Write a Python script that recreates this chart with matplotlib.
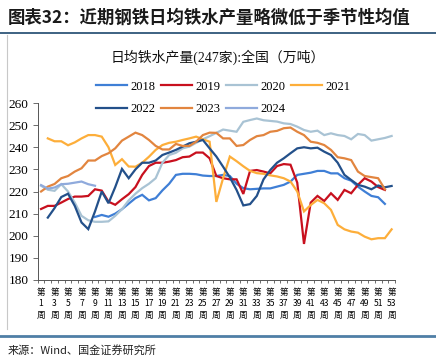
import numpy as np
import matplotlib
matplotlib.use("Agg")
import matplotlib.pyplot as plt
from matplotlib.lines import Line2D

nan = np.nan
weeks = list(range(1, 54))
week_labels = [f"第\n{w}\n周" for w in weeks]

y2018 = [nan]*8 + [208.5, 209.4, 208.6, 210, 212, 214.5, 217, 218.5, 216, 217,
        220.5, 223.5, 227.5, 228, 228, 227.8, 227.2, 227, 227, 227.5,
        227, 223.5, 221.5, 221, 221.2, 221.4, 221.4, 222.2, 223, 224.5,
        227.5, 228, 228.5, 229.3, 229.3, 228.2, 228.2, 226, 224.9, 222.2,
        220, 218, 217.4, 214.4, nan]
y2019 = [212.1, 213.5, 213.5, 215, 216.6, 217.7, 217.7, 218, 221, 220.4,
         215.4, 214, 216.5, 218.8, 222, 227.5, 231.5, 233, 233, 233.5,
         234.2, 235.5, 235.8, 237.6, 237.6, 235, 227, 226, 225.5, 225.5,
         218.9, 229.3, 229.7, 229, 228.2, 231.5, 232.4, 232.1, 224, 196.3,
         215, 218, 215.7, 219.2, 216.2, 220.7, 219.2, 223, 226, 224.5,
         222, 220.7, nan]
y2020 = [222.6, 220.8, 220.3, 223.3, 220, 215, 209, 207, 206.3, 206.3,
         206.5, 209, 212, 216, 219, 221.5, 223.5, 226, 233, 236.5,
         237.5, 239.5, 240.3, 242, 243.6, 245, 246.5, 248, 247.5, 247,
         251.5, 252.3, 253, 252.2, 251.9, 251.6, 250.8, 250.5, 249.3, 247.8,
         247, 247.5, 245.5, 246.3, 245.5, 245.1, 243.6, 246, 245.5, 243,
         243.6, 244.2, 245.1]
y2021 = [nan, 244, 242.7, 242.7, 240.9, 242.2, 244, 245.5, 245.5, 244.8,
         240, 232, 234.6, 231.3, 231.2, 233, 235.7, 238.8, 241, 242,
         242.5, 243.3, 244, 244.8, 243.6, 242.5, 215.3, 226, 235.8, 233.7,
         231.4, 229.3, 228.3, 228, 227.3, 226.8, 226, 224.5, 220, 211,
         213.9, 216.2, 214.7, 211.7, 204.9, 202.9, 201.9, 201.4, 199.6, 198.4,
         198.9, 198.9, 202.9]
y2022 = [nan, 208.2, 212.5, 217.5, 219, 213.5, 206, 203, 211, 220,
         214.7, 222, 230.2, 226, 230, 233, 233, 234, 236.5, 237.6,
         238.8, 240.3, 241.8, 242.5, 243.3, 239.5, 235.8, 231.2, 226.4, 220.7,
         213.7, 214.3, 218, 225.5, 229.7, 233, 235, 237.3, 239.5, 240,
         239.5, 239.8, 238, 236.5, 233, 227.5, 225.2, 223, 222.2, 221,
         222.7, 221.9, 222.5]
y2023 = [220, 222.2, 223.4, 226, 227, 229, 230.5, 234, 234, 236,
         237.3, 239.5, 243, 244.8, 246.6, 245.5, 243.3, 240.6, 239, 239,
         241.5, 240.6, 240.6, 242.5, 245.5, 246.6, 246.5, 244, 244, 240.6,
         241, 243.3, 245, 245.5, 247, 247.4, 248.6, 248.9, 247, 245.5,
         242.5, 242, 241, 238.8, 235.5, 235, 234.2, 229, 227, 226.5,
         226, 221, nan]
y2024 = [222.9, 221.3, 221.8, 223.3, 223.5, 224, 224.5, 223.3, 222.6] + [nan]*44

years = ["2018", "2019", "2020", "2021", "2022", "2023", "2024"]
series = [y2018, y2019, y2020, y2021, y2022, y2023, y2024]
colors = ["#3F7FD6", "#C8101E", "#A9C3D4", "#FDAE3A", "#23508A", "#E2853F", "#8FAADC"]

W, H = 436, 361
fig = plt.figure(figsize=(W/100, H/100), dpi=100)

def fx(px):
    return px / W

def fy(py):
    return 1 - py / H

ax = fig.add_axes([fx(37.7), fy(280), fx(395) - fx(37.7), fy(103) - fy(280)])

handles = {}
for yr, vals, c in zip(years, series, colors):
    ln, = ax.plot(weeks, vals, color=c, lw=1.6, solid_joinstyle="miter", label=yr)
    handles[yr] = ln

ax.set_xlim(0.5, 53.5)
ax.set_ylim(180, 260)
ax.set_yticks(range(180, 261, 10))
ax.set_xticks(weeks[::2])
ax.set_xticklabels(week_labels[::2], family=["Noto Sans CJK SC"], fontsize=6.2,
                   linespacing=1.3, va="top")
ax.set_xticks(np.arange(0.5, 54, 1), minor=True)
ax.tick_params(axis="x", which="major", length=0, pad=6)
ax.tick_params(axis="x", which="minor", length=2.5, width=0.6, color="#555555", direction="out")
ax.tick_params(axis="y", length=3.5, width=0.6, color="#555555", pad=3, labelsize=9.5)
for lab in ax.get_yticklabels():
    lab.set_family("Liberation Serif")
for s in ["top", "right"]:
    ax.spines[s].set_visible(False)
for s in ["left", "bottom"]:
    ax.spines[s].set_color("#555555")
    ax.spines[s].set_linewidth(0.7)

order = ["2018", "2022", "2019", "2023", "2020", "2024", "2021"]
fig.legend([handles[k] for k in order], order, ncol=4, loc="center",
           bbox_to_anchor=(fx(223), fy(98)), frameon=False,
           prop={"family": "Liberation Serif", "size": 9},
           handlelength=2.5, handletextpad=0.25, columnspacing=0.45,
           labelspacing=0.85, borderpad=0)

fig.text(fx(8), fy(18), "图表32：近期钢铁日均铁水产量略微低于季节性均值",
         family=["Noto Sans CJK SC"], fontsize=12.5, fontweight="bold",
         ha="left", va="center", color="#1a1a1a", style="italic")
fig.add_artist(Line2D([0, 1], [fy(33), fy(33)], color="#2E5678", lw=1.3))
fig.add_artist(Line2D([fx(7), fx(7)], [fy(35), fy(329)], color="#C8C8C8", lw=0.8))
fig.text(fx(218), fy(57), "日均铁水产量(247家):全国（万吨）",
         family=["Liberation Serif", "Noto Sans CJK SC"], fontsize=10,
         ha="center", va="center", color="#111111")
fig.add_artist(Line2D([0, 1], [fy(336), fy(336)], color="#4F7FA6", lw=2))
fig.text(fx(8), fy(350), "来源：Wind、国金证券研究所",
         family=["Noto Sans CJK SC"], fontsize=8, ha="left", va="center",
         color="#222222")

fig.savefig("out.png", dpi=100)
